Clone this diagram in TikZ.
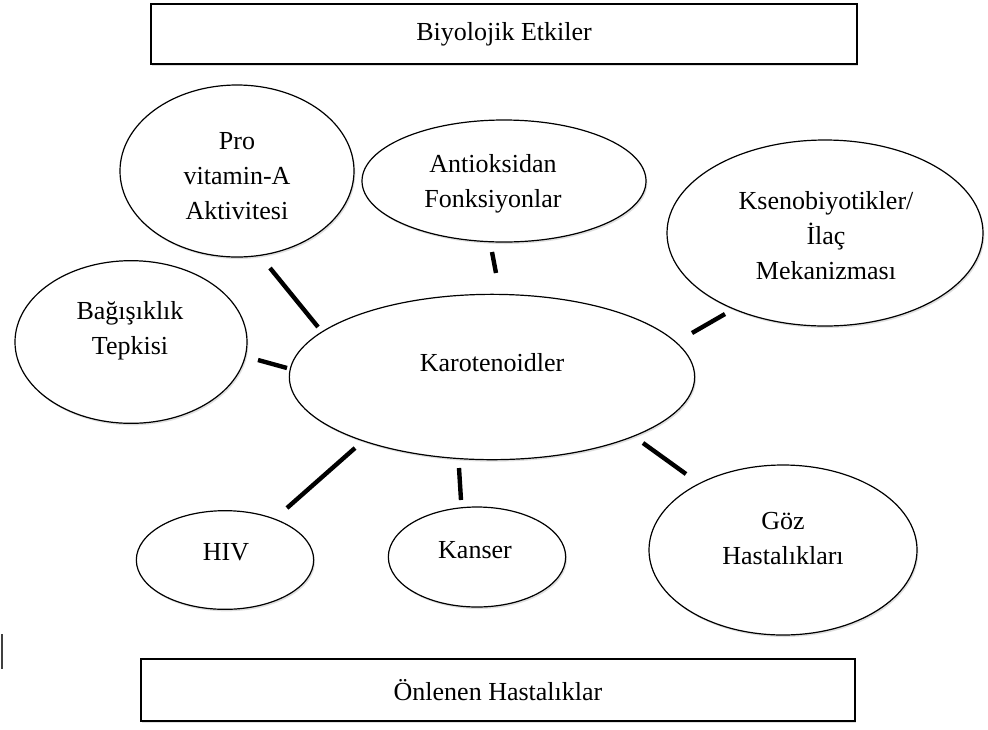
\documentclass[tikz,border=0pt]{standalone}
\usepackage{fontspec}
\setmainfont{Liberation Serif}
\usetikzlibrary{shapes.geometric, shadows}

\begin{document}
\begin{tikzpicture}[x=0.75pt, y=-0.75pt,
    oval/.style={ellipse, draw, line width=0.9pt, fill=white, inner sep=0pt,
        drop shadow={opacity=0.25, shadow xshift=1pt, shadow yshift=-1.5pt}},
    box/.style={rectangle, draw, line width=1pt, fill=white, inner sep=0pt,
        font=\fontsize{19.5}{26.25}\selectfont,
        drop shadow={opacity=0.25, shadow xshift=1pt, shadow yshift=-1.5pt}},
    txt/.style={align=center, font=\fontsize{19.5}{26.25}\selectfont},
    link/.style={line width=3.3pt}]
            \useasboundingbox (0,0) rectangle (988,729);
            \node[box, minimum width=529.5pt, minimum height=45pt] (etki) at (504,34) {Biyolojik Etkiler};
            \node[box, minimum width=535.5pt, minimum height=46.5pt] (onlenen) at (498,690) {Önlenen Hastalıklar};
            \node[oval, minimum width=175.5pt, minimum height=129pt] (pro) at (237,171) {};
            \node[oval, minimum width=213pt, minimum height=91.5pt] (anti) at (504,181) {};
            \node[oval, minimum width=237pt, minimum height=139.5pt] (kseno) at (825,233) {};
            \node[oval, minimum width=174pt, minimum height=122pt] (bag) at (131,342) {};
            \node[oval, minimum width=304pt, minimum height=124pt] (karo) at (492,377) {};
            \node[oval, minimum width=133pt, minimum height=74pt] (hiv) at (225,560) {};
            \node[oval, minimum width=133pt, minimum height=75pt] (kanser) at (477,557) {};
            \node[oval, minimum width=201pt, minimum height=127.5pt] (goz) at (783,550) {};
            \node[txt] at (237,176) {Pro\\vitamin-A\\Aktivitesi};
            \node[txt] at (493,184) {Antioksidan\\Fonksiyonlar};
            \node[txt] at (826,236) {Ksenobiyotikler/\\İlaç\\Mekanizması};
            \node[txt] at (130,331) {Bağışıklık\\Tepkisi};
            \node[txt] at (492,363) {Karotenoidler};
            \node[txt] at (226,552) {HIV};
            \node[txt] at (475,550) {Kanser};
            \node[txt] at (783,539) {Göz\\Hastalıkları};
            \coordinate (pro-a) at (270,268);
            \coordinate (pro-b) at (318,327);
            \coordinate (anti-a) at (492,252);
            \coordinate (anti-b) at (496,273);
            \coordinate (kseno-a) at (725,314);
            \coordinate (kseno-b) at (692,333);
            \coordinate (bag-a) at (258,360);
            \coordinate (bag-b) at (287,368);
            \coordinate (hiv-a) at (287,508);
            \coordinate (hiv-b) at (355,448);
            \coordinate (kanser-a) at (461,500);
            \coordinate (kanser-b) at (459,468);
            \coordinate (goz-a) at (686,474);
            \coordinate (goz-b) at (643,443);
            \coordinate (mark-a) at (2,634);
            \coordinate (mark-b) at (2,669);
            \draw[link] (pro-a) -- (pro-b);
            \draw[link] (anti-a) -- (anti-b);
            \draw[link] (kseno-a) -- (kseno-b);
            \draw[link] (bag-a) -- (bag-b);
            \draw[link] (hiv-a) -- (hiv-b);
            \draw[link] (kanser-a) -- (kanser-b);
            \draw[link] (goz-a) -- (goz-b);
            \draw[line width=1.5pt, black!75] (mark-a) -- (mark-b);
        \end{tikzpicture}
\end{document}
